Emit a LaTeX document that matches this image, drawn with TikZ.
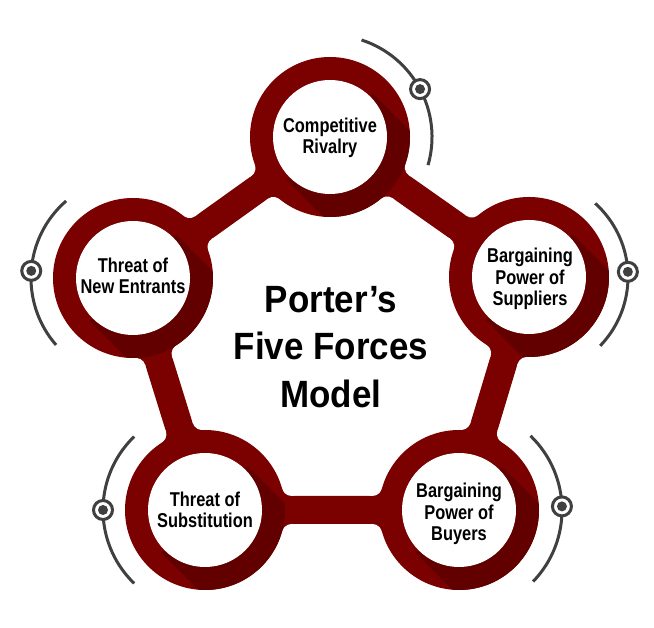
\documentclass[tikz,border=0pt]{standalone}
\usepackage{fontspec}
\setmainfont{Liberation Sans}
\newfontfamily\lblfont{Liberation Sans}[FakeStretch=0.82]
\newfontfamily\titlefont{Liberation Sans}[FakeStretch=0.92]
\definecolor{ringred}{HTML}{7B0000}
\definecolor{shadowred}{HTML}{620000}
\definecolor{arcgray}{HTML}{404040}
\begin{document}
\begin{tikzpicture}[x=0.75pt,y=0.75pt,
  bar/.style={line width=21pt, draw=ringred},
  lbl/.style={align=center, font=\lblfont\bfseries\fontsize{15}{16}\selectfont, text=black, inner sep=0pt},
  ttl/.style={align=center, font=\titlefont\bfseries\fontsize{28.5}{35.6}\selectfont, text=black, inner sep=0pt},
  deco/.style={draw=arcgray, line width=2.25pt},
  markring/.style={draw=arcgray, line width=2.25pt, fill=white},
  markdot/.style={fill=arcgray}]
\useasboundingbox (0,0) rectangle (654,628);
\fill[white] (0,0) rectangle (654,628);

\coordinate (top) at (330,491);
\coordinate (lft) at (133,350);
\coordinate (rgt) at (529,351);
\coordinate (bl) at (205,118);
\coordinate (br) at (459,118);

% bars
\draw[bar] (top) -- (rgt) -- (br) -- (bl) -- (lft) -- cycle;

% fillets where bars meet circles
\foreach \c/\t in {top/-35.1, rgt/144.9, rgt/-106.7, br/73.3, br/180, bl/0, bl/107.2, lft/-72.8, lft/35.6, top/-144.4}{
  \foreach \s in {1,-1}{
    \begin{scope}[shift={(\c)}, rotate=\t, yscale=\s]
      \fill[ringred] (68,0) -- (77.1,21.33) -- (86.74,24) -- (86.74,13) -- cycle;
      \fill[white] (86.74,24) circle (10);
    \end{scope}
  }
}

% circles with shadows
\foreach \c in {top,lft,rgt,bl,br}{
  \fill[ringred] (\c) circle (80);
  \begin{scope}
    \clip (\c) circle (80);
    \fill[shadowred] (\c) ++(45:61) -- ++(-45:200) -- ++(-135:122) -- ++(135:200) -- cycle;
  \end{scope}
  \fill[white] (\c) circle (57);
}

% labels
\node[lbl] (ltop) at (330,490) {Competitive\\Rivalry};
\node[lbl] (llft) at (133,352) {Threat of\\New Entrants};
\node[lbl] (lrgt) at (530,349) {Bargaining\\Power of\\Suppliers};
\node[lbl] (lbl) at (205,118) {Threat of\\Substitution};
\node[lbl] (lbr) at (459,114) {Bargaining\\Power of\\Buyers};
\node[ttl] (title) at (331,281) {Porter’s\\Five Forces\\Model};

% decorative arcs
\draw[deco] (top) ++(-16:102) arc[start angle=-16, end angle=72, radius=102];
\draw[deco] (lft) ++(131:102) arc[start angle=131, end angle=221, radius=102];
\draw[deco] (rgt) ++(-44:99) arc[start angle=-44, end angle=48, radius=99];
\draw[deco] (bl) ++(134:102) arc[start angle=134, end angle=226, radius=102];
\draw[deco] (br) ++(-44:103) arc[start angle=-44, end angle=46, radius=103];

\foreach \c/\a/\r in {top/28/102, lft/176/102, rgt/3/99, bl/180/102, br/2/103}{
  \draw[markring] (\c) ++(\a:\r) circle (9.5);
  \fill[markdot] (\c) ++(\a:\r) circle (5);
}
\end{tikzpicture}
\end{document}
